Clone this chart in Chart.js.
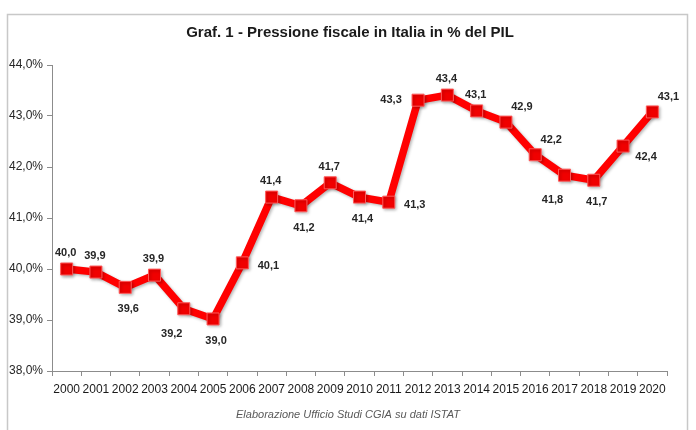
<!DOCTYPE html>
<html><head><meta charset="utf-8">
<script src="https://cdn.jsdelivr.net/npm/chart.js@4"></script>
<style>html,body{margin:0;padding:0;background:#fff}canvas{display:block}</style>
</head><body>
<canvas id="c" width="696" height="430"></canvas>
<script>
const years = ['2000','2001','2002','2003','2004','2005','2006','2007','2008','2009','2010','2011','2012','2013','2014','2015','2016','2017','2018','2019','2020'];
const pressione = [40.0, 39.94, 39.64, 39.88, 39.22, 39.02, 40.12, 41.41, 41.24, 41.69, 41.41, 41.31, 43.31, 43.41, 43.10, 42.88, 42.24, 41.84, 41.74, 42.41, 43.08];
const yTicks = [38, 39, 40, 41, 42, 43, 44];
const labelPlacement = ['top','top','bottom','top','bottomleft','bottom','right','top','bottom','top','bottom','right','left','top','top','topright','topright','bottomleft','bottom','bottomright','topright'];
const titleText = 'Graf. 1 - Pressione fiscale in Italia in % del PIL';
const footerText = 'Elaborazione Ufficio Studi CGIA su dati ISTAT';

const fmt = v => v.toFixed(1).replace('.', ',');
const placementOffset = {
  top: [-1, -16], bottom: [3, 22], right: [26, 3], left: [-27, 0],
  topright: [16, -15], bottomleft: [-12, 25], bottomright: [23, 11]
};

const framePlugin = {
  id: 'frame',
  beforeDraw(chart) {
    const ctx = chart.ctx;
    ctx.save();
    ctx.fillStyle = '#fff';
    ctx.fillRect(0, 0, chart.width, chart.height);
    ctx.strokeStyle = '#c8c8c8';
    ctx.lineWidth = 1.5;
    ctx.strokeRect(7.5, 14.5, 680, 440);
    ctx.restore();
  },
  afterDraw(chart) {
    const ctx = chart.ctx;
    ctx.save();
    ctx.textAlign = 'center';
    ctx.textBaseline = 'middle';
    ctx.fillStyle = '#1a1a1a';
    ctx.font = 'bold 15px "Liberation Sans", Arial, sans-serif';
    ctx.fillText(titleText, 350, 33);
    ctx.fillStyle = '#595959';
    ctx.font = 'italic 11px "Liberation Sans", Arial, sans-serif';
    ctx.fillText(footerText, 348, 415);
    ctx.restore();
  }
};

const shadowPlugin = {
  id: 'lineShadow',
  beforeDatasetDraw(chart) {
    const ctx = chart.ctx;
    ctx.save();
    ctx.shadowColor = 'rgba(0,0,0,0.28)';
    ctx.shadowBlur = 3;
    ctx.shadowOffsetX = 1.5;
    ctx.shadowOffsetY = 1.5;
  },
  afterDatasetDraw(chart) {
    chart.ctx.restore();
  }
};

const labelPlugin = {
  id: 'valueLabels',
  afterDatasetsDraw(chart) {
    const ctx = chart.ctx;
    const meta = chart.getDatasetMeta(0);
    ctx.save();
    ctx.font = 'bold 11px "Liberation Sans", Arial, sans-serif';
    ctx.fillStyle = '#262626';
    ctx.textAlign = 'center';
    ctx.textBaseline = 'middle';
    meta.data.forEach((pt, i) => {
      const off = placementOffset[labelPlacement[i]];
      ctx.fillText(fmt(pressione[i]), pt.x + off[0], pt.y + off[1]);
    });
    ctx.restore();
  }
};

new Chart(document.getElementById('c'), {
  type: 'line',
  data: {
    labels: years,
    datasets: [{
      data: pressione,
      borderColor: '#ff0000',
      borderWidth: 7.5,
      tension: 0,
      pointStyle: 'rect',
      pointRadius: 8.5,
      pointHoverRadius: 8.5,
      pointBackgroundColor: '#f00000',
      pointBorderColor: '#ff5a5a',
      pointBorderWidth: 1,
      borderJoinStyle: 'miter'
    }]
  },
  options: {
    responsive: false,
    animation: false,
    devicePixelRatio: 1,
    layout: { padding: { top: 65, right: 29, left: 0, bottom: 0 } },
    plugins: { legend: { display: false }, tooltip: { enabled: false }, title: { display: false } },
    scales: {
      x: {
        offset: true,
        grid: { display: true, drawOnChartArea: false, drawTicks: true, tickLength: 5, color: '#8c8c8c', offset: true },
        border: { display: true, color: '#8c8c8c', width: 1 },
        ticks: { autoSkip: false, maxRotation: 0, minRotation: 0, padding: 6, color: '#1a1a1a',
                 font: { family: '"Liberation Sans", Arial, sans-serif', size: 12 } },
        afterFit(scale) { scale.height = 59; }
      },
      y: {
        min: 38, max: 44,
        afterBuildTicks(scale) { scale.ticks = yTicks.map(v => ({ value: v })); },
        grid: { display: true, drawOnChartArea: false, drawTicks: true, tickLength: 5, color: '#8c8c8c' },
        border: { display: true, color: '#8c8c8c', width: 1 },
        ticks: { padding: 4, color: '#262626', callback: v => fmt(v) + '%',
                 font: { family: '"Liberation Sans", Arial, sans-serif', size: 12 } },
        afterFit(scale) { scale.width = 52; }
      }
    }
  },
  plugins: [framePlugin, shadowPlugin, labelPlugin]
});
</script>
</body></html>
